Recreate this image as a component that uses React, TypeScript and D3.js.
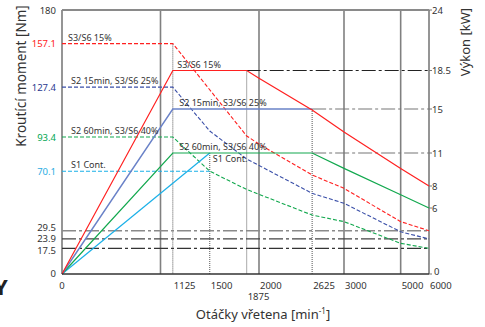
import React from "react";
import * as d3 from "d3";

// ---- data ----
const speedDomain = [0, 2000, 3000, 6000];
const speedLabels = [0, 1125, 1500, 2000, 2625, 3000, 5000, 6000];
const speedLabelLow = [1875];
const solidGrid = [1000, 2000, 3000, 5000];
const torqueTicks = [180, 157.1, 127.4, 93.4, 70.1, 29.5, 23.9, 17.5, 0];
const torqueTickColors = ["#333", "#ff1a1a", "#2b3a8f", "#00a651", "#29abe2", "#333", "#333", "#333", "#333"];
const powerTicks = [24, 18.5, 15, 11, 8, 6, 0];

const s3_15Torque: [number, number][] = [[0, 157.1], [1125, 157.1], [1875, 94.1], [2000, 88.6], [2625, 67.5], [3000, 58.4], [5000, 35.7], [6000, 29.5]];
const s2_15Torque: [number, number][] = [[0, 127.4], [1125, 127.4], [1500, 97.5], [1875, 78.4], [2625, 55.0], [3000, 48.2], [5000, 28.8], [6000, 23.9]];
const s2_60Torque: [number, number][] = [[0, 93.4], [1125, 93.4], [1500, 70.1], [1875, 57.6], [2625, 40.2], [3000, 35.7], [5000, 20.9], [6000, 17.5]];
const s1Torque: [number, number][] = [[0, 70.1], [1500, 70.1]];

const s3_15Power: [number, number][] = [[0, 0], [1125, 18.5], [1875, 18.5], [2000, 17.8], [2625, 14.9], [3000, 12.9], [5000, 9.6], [6000, 8]];
const s2_15Power: [number, number][] = [[0, 0], [1125, 15], [2625, 15]];
const s2_60Power: [number, number][] = [[0, 0], [1125, 11], [2625, 11], [3000, 9.6], [5000, 7.2], [6000, 6]];
const s1Power: [number, number][] = [[0, 0], [1500, 11]];

const torqueFloors = [29.5, 23.9, 17.5];
const torqueFloorColors = ["#8a8a8a", "#444", "#333"];
const powerLevels = [18.5, 15, 11];
const powerLevelFrom = [1875, 2625, 2625];
const powerLevelColors = ["#222", "#777", "#777"];
const kneeSpeeds = [1125, 1500, 1875, 2625];
const kneeTops = [{ t: 157.1 }, { p: 11 }, { p: 18.5 }, { p: 15 }];

const leftLabels = ["S3/S6 15%", "S2 15min, S3/S6 25%", "S2 60min, S3/S6 40%", "S1 Cont."];
const leftLabelTorque = [157.1, 127.4, 93.4, 70.1];
const rightLabels = ["S3/S6 15%", "S2 15min, S3/S6 25%", "S2 60min, S3/S6 40%", "S1 Cont."];
const rightLabelSpeed = [1170, 1190, 1190, 1530];
const rightLabelPower = [18.5, 15, 11, 11];

const RED = "#ff2020";
const BLUE_D = "#3a4fa8";
const BLUE_S = "#6a82c8";
const GREEN = "#12a84e";
const CYAN = "#1ab0e8";

export default function App() {
  const left = 62, right = 429, top = 10, bottom = 274;
  const x = d3.scaleLinear().domain(speedDomain).range([left, 259, 344, right]);
  const yT = d3.scaleLinear().domain([0, 180]).range([bottom, top]);
  const yP = d3.scaleLinear().domain([0, 24]).range([bottom, top]);
  const lineT = d3.line<[number, number]>().x(d => x(d[0])).y(d => yT(d[1]));
  const lineP = d3.line<[number, number]>().x(d => x(d[0])).y(d => yP(d[1]));
  const font = "'Noto Sans', 'Open Sans', sans-serif";
  const dashDot = "14,3,3,3";
  const tickNudge = (t: number) => (t === 29.5 ? -3 : t === 17.5 ? 2 : t === 0 ? -1 : 0);

  return (
    <svg width={485} height={327} style={{ position: "absolute", left: 0, top: 0 }} fontFamily={font}>
      <rect width={485} height={327} fill="#fff" />
      {solidGrid.map((s, i) => (
        <line key={"g" + i} x1={x(s)} x2={x(s)} y1={top} y2={bottom} stroke="#808080" strokeWidth={1.6} />
      ))}
      {kneeSpeeds.map((s, i) => {
        const k: any = kneeTops[i];
        const yy = k.t !== undefined ? yT(k.t) : yP(k.p);
        return <line key={"k" + i} x1={x(s)} x2={x(s)} y1={yy} y2={bottom} stroke="#555" strokeWidth={1} strokeDasharray="1,1" />;
      })}
      <line x1={left} x2={right} y1={top} y2={top} stroke="#8a8a8a" strokeWidth={1.8} />
      <line x1={left} x2={left} y1={top} y2={bottom} stroke="#8a8a8a" strokeWidth={1.8} />
      <line x1={right} x2={right} y1={top} y2={bottom} stroke="#8a8a8a" strokeWidth={1.8} />
      {torqueFloors.map((t, i) => (
        <line key={"f" + i} x1={left} x2={right} y1={yT(t)} y2={yT(t)} stroke={torqueFloorColors[i]} strokeWidth={i === 0 ? 1.6 : 1.2} strokeDasharray={dashDot} />
      ))}
      {powerLevels.map((p, i) => (
        <line key={"p" + i} x1={x(powerLevelFrom[i])} x2={right} y1={yP(p)} y2={yP(p)} stroke={powerLevelColors[i]} strokeWidth={1.2} strokeDasharray={dashDot} />
      ))}
      <path d={lineT(s3_15Torque)!} fill="none" stroke={RED} strokeWidth={1.1} strokeDasharray="4,2" />
      <path d={lineT(s2_15Torque)!} fill="none" stroke={BLUE_D} strokeWidth={1.1} strokeDasharray="4,2" />
      <path d={lineT(s2_60Torque)!} fill="none" stroke={GREEN} strokeWidth={1.1} strokeDasharray="4,2" />
      <path d={lineT(s1Torque)!} fill="none" stroke={CYAN} strokeWidth={1.1} strokeDasharray="4,2" />
      <path d={lineP(s1Power)!} fill="none" stroke={CYAN} strokeWidth={1.2} />
      <path d={lineP(s2_60Power)!} fill="none" stroke={GREEN} strokeWidth={1.2} />
      <path d={lineP(s2_15Power)!} fill="none" stroke={BLUE_S} strokeWidth={1.4} />
      <path d={lineP(s3_15Power)!} fill="none" stroke={RED} strokeWidth={1.2} />
      <line x1={left} x2={right} y1={bottom} y2={bottom} stroke="#333" strokeWidth={1.5} />
      {torqueTicks.map((t, i) => (
        <text key={"lt" + i} x={56} y={yT(t) + 3.5 + tickNudge(t)} textAnchor="end" fontSize={9.5} fill={torqueTickColors[i]}>{t}</text>
      ))}
      {powerTicks.map((p, i) => (
        <g key={"rt" + i}>
          <line x1={right} x2={right + 3} y1={yP(p)} y2={yP(p)} stroke="#777" strokeWidth={1} />
          <text x={p === 0 ? 434 : 432} y={yP(p) + (p === 0 ? 1 : 3.5)} fontSize={9.5} fill="#333">{p}</text>
        </g>
      ))}
      {speedLabels.map((s, i) => (
        <text key={"xl" + i} x={s === 0 ? x(s) : x(s) + 1} y={289} textAnchor={s === 0 ? "middle" : "start"} fontSize={9.5} fill="#333">{s}</text>
      ))}
      {speedLabelLow.map((s, i) => (
        <text key={"xl2" + i} x={x(s) + 1} y={300} fontSize={9.5} fill="#333">{s}</text>
      ))}
      {leftLabels.map((l, i) => (
        <text key={"sl" + i} x={i === 0 ? 68 : 71} y={yT(leftLabelTorque[i]) - 3} fontSize={9} fill="#333">{l}</text>
      ))}
      {rightLabels.map((l, i) => (
        <text key={"sr" + i} x={x(rightLabelSpeed[i])} y={yP(rightLabelPower[i]) + (i === 3 ? 9 : -3)} fontSize={9} fill="#333">{l}</text>
      ))}
      <text transform={`translate(26,76) rotate(-90)`} textAnchor="middle" fontSize={13.5} fill="#333">Kroutící moment [Nm]</text>
      <text transform={`translate(470,42) rotate(-90)`} textAnchor="middle" fontSize={13} fill="#333">Výkon [kW]</text>
      <text x={263} y={319} textAnchor="middle" fontSize={13} fill="#333">
        Otáčky vřetena [min<tspan dy={-5} fontSize={8}>-1</tspan><tspan dy={5}>]</tspan>
      </text>
      <text x={-6} y={295} fontSize={22} fontWeight="bold" fill="#222">Y</text>
    </svg>
  );
}
